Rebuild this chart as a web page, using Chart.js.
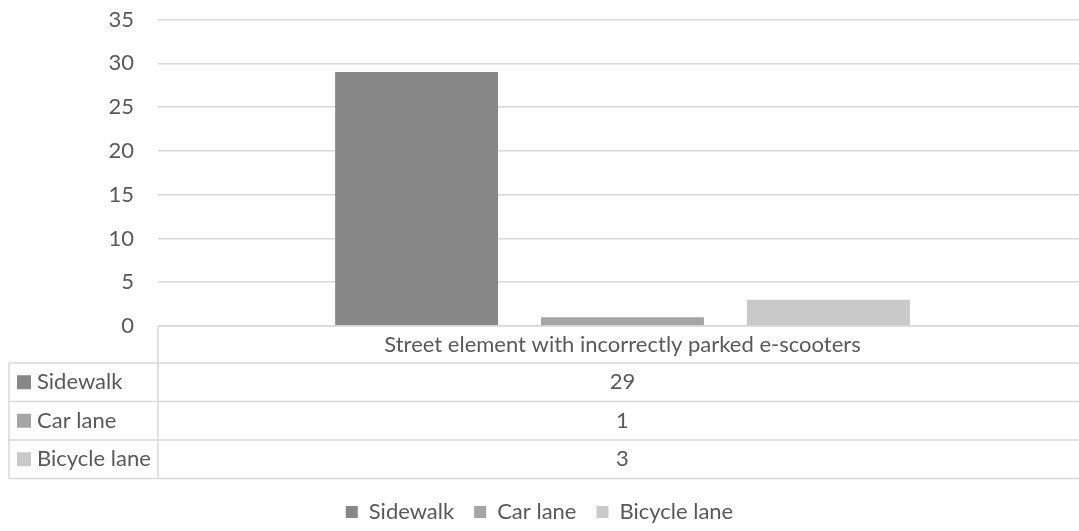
<!DOCTYPE html>
<html>
<head>
<meta charset="utf-8">
<script src="https://cdn.jsdelivr.net/npm/chart.js@4"></script>
<style>
  html, body { margin: 0; padding: 0; background: #fff; }
  #chart { display: block; }
</style>
</head>
<body>
<canvas id="chart" width="1079" height="531"></canvas>
<script>
// ==================== DATA ====================
const categories = ['Street element with incorrectly parked e-scooters'];
const seriesNames = ['Sidewalk', 'Car lane', 'Bicycle lane'];
const sidewalk = [29];
const carLane = [1];
const bicycleLane = [3];
const yTicks = [0, 5, 10, 15, 20, 25, 30, 35];

const seriesColors = ['#878787', '#a5a5a5', '#c9c9c9'];
const textColor = '#595959';
const lineColor = '#d9d9d9';
const FONT = 'Lato';
const FONT_SIZE = 22;

// ==================== PLOT AREA ====================
// el area de trazado sigue unos px fuera del borde derecho,
// y la leyenda baja 2px
const adjustLayout = {
  id: 'adjustLayout',
  afterLayout(chart) {
    const x = chart.scales.x;
    x.right += 8;
    x.width += 8;
    x.configure();
    chart.chartArea.right += 8;
    chart.chartArea.width += 8;
    chart.legend.top += 2;
    chart.legend.bottom += 2;
  }
};

// ==================== DATA TABLE PLUGIN ====================
// dibuja la tabla de datos bajo el eje X
const dataTablePlugin = {
  id: 'dataTable',
  afterDraw(chart) {
    const ctx = chart.ctx;
    const area = chart.chartArea;
    const left = area.left;
    const right = area.right;
    const top = area.bottom;
    const headerH = 37;
    const rowH = 38.5;
    const labelLeft = 9;
    const bottom = top + headerH + rowH * seriesNames.length;

    ctx.save();
    ctx.strokeStyle = lineColor;
    ctx.lineWidth = 1.5;

    // lineas horizontales
    ctx.beginPath();
    ctx.moveTo(left, top);
    ctx.lineTo(right, top);
    for (let i = 0; i <= seriesNames.length; i++) {
      const y = top + headerH + rowH * i;
      ctx.moveTo(labelLeft, y);
      ctx.lineTo(right, y);
    }
    // lineas verticales
    ctx.moveTo(left, top);
    ctx.lineTo(left, bottom);
    ctx.moveTo(labelLeft, top + headerH);
    ctx.lineTo(labelLeft, bottom);
    ctx.stroke();

    ctx.font = FONT_SIZE + 'px ' + FONT;
    ctx.fillStyle = textColor;
    ctx.textBaseline = 'middle';

    // cabecera con la categoria
    const cx = chart.scales.x.getPixelForValue(0);
    ctx.textAlign = 'center';
    ctx.fillText(categories[0], cx, top + headerH / 2);

    // filas por serie
    chart.data.datasets.forEach((ds, i) => {
      const yMid = top + headerH + rowH * i + rowH / 2;
      ctx.fillStyle = ds.backgroundColor;
      ctx.fillRect(17, yMid - 7, 14, 14);
      ctx.fillStyle = textColor;
      ctx.textAlign = 'left';
      ctx.fillText(ds.label, 37, yMid);
      ctx.textAlign = 'center';
      ctx.fillText(String(ds.data[0]), cx, yMid);
    });
    ctx.restore();
  }
};

// ==================== CHART ====================
const ctx = document.getElementById('chart').getContext('2d');

new Chart(ctx, {
  type: 'bar',
  data: {
    labels: categories,
    datasets: [
      { label: seriesNames[0], data: sidewalk, backgroundColor: seriesColors[0] },
      { label: seriesNames[1], data: carLane, backgroundColor: seriesColors[1] },
      { label: seriesNames[2], data: bicycleLane, backgroundColor: seriesColors[2] }
    ]
  },
  options: {
    responsive: false,
    animation: false,
    devicePixelRatio: 1,
    categoryPercentage: 0.665,
    barPercentage: 0.791,
    layout: {
      padding: { top: 19.5, right: 0, bottom: 0, left: 0 }
    },
    plugins: {
      legend: {
        display: true,
        position: 'bottom',
        labels: {
          boxWidth: 12,
          boxHeight: 12,
          padding: 20,
          color: textColor,
          font: { family: FONT, size: FONT_SIZE }
        }
      },
      tooltip: { enabled: false }
    },
    scales: {
      x: {
        display: true,
        grid: { display: false },
        border: { display: false },
        ticks: { display: false },
        afterFit: (scale) => { scale.height = 153; }
      },
      y: {
        min: yTicks[0],
        max: yTicks[yTicks.length - 1],
        afterFit: (scale) => { scale.width = 158; },
        afterBuildTicks: (scale) => { scale.ticks = yTicks.map(v => ({ value: v })); },
        border: { display: false },
        grid: { color: lineColor, lineWidth: 1.5, tickLength: 24, tickColor: 'rgba(0,0,0,0)' },
        ticks: {
          padding: 0,
          color: textColor,
          font: { family: FONT, size: FONT_SIZE }
        }
      }
    }
  },
  plugins: [adjustLayout, dataTablePlugin]
});
</script>
</body>
</html>
